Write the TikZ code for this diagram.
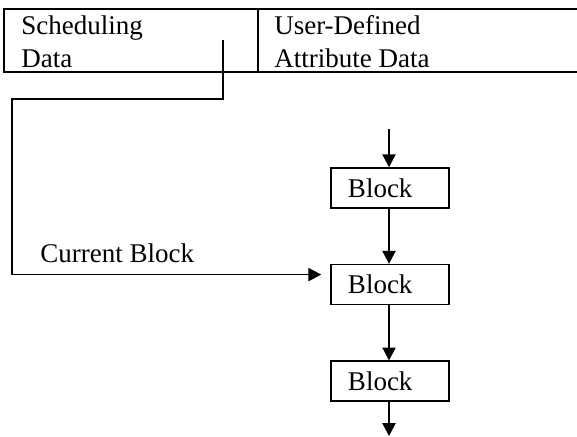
\documentclass[tikz,border=0pt]{standalone}
\usepackage{fontspec}
\setmainfont{Liberation Serif}
\usetikzlibrary{arrows.meta,positioning,calc}
\tikzset{
	txt/.style={inner sep=0pt, anchor=base west, font=\fontsize{19.2}{22}\selectfont},
	block/.style={draw, line width=1.1pt, text width=2.1cm, align=left, inner xsep=0.425cm, minimum height=1cm, inner ysep=0pt, font=\fontsize{19.2}{22}\selectfont},
	link/.style={line width=0.9pt, -{Triangle[length=0.32cm, width=0.33cm]}}
}

\begin{document}
\begin{tikzpicture}[x=0.025cm, y=-0.025cm]
\useasboundingbox (0 ,0) rectangle (577 ,436);
% record table
\draw [line width=1.4pt] (577 ,9) -- (4 ,9) -- (4 ,72) -- (577 ,72);
\draw [line width=1.4pt] (258 ,9) -- (258 ,72);
\node [txt] (sched1) at (21 ,34) {Scheduling};
\node [txt] (sched2) at (21 ,67) {Data};
\node [txt] (attr1) at (274 ,34) {User-Defined};
\node [txt] (attr2) at (274 ,67) {Attribute Data};
% list of blocks
\coordinate (in) at (389 ,129);
\node [block] (b1) at (390 ,188) {Block};
\node [block, below=1.375cm of b1] (b2) {Block};
\node [block, below=1.375cm of b2] (b3) {Block};
\coordinate (out) at (389 ,436);
\draw [link] (in) -- (in |- b1.north);
\draw [link] (in |- b1.south) -- (in |- b2.north);
\draw [link] (in |- b2.south) -- (in |- b3.north);
\draw [link] (in |- b3.south) -- (out);
% pointer to the current block
\coordinate (ptr) at (223 ,40);
\coordinate (tip) at ($(b2.west)+(-9 ,-10)$);
\draw [link] (ptr) |- (12 ,99) |- (tip);
\node [txt] (cur) at (40 ,262) {Current Block};
\end{tikzpicture}
\end{document}
